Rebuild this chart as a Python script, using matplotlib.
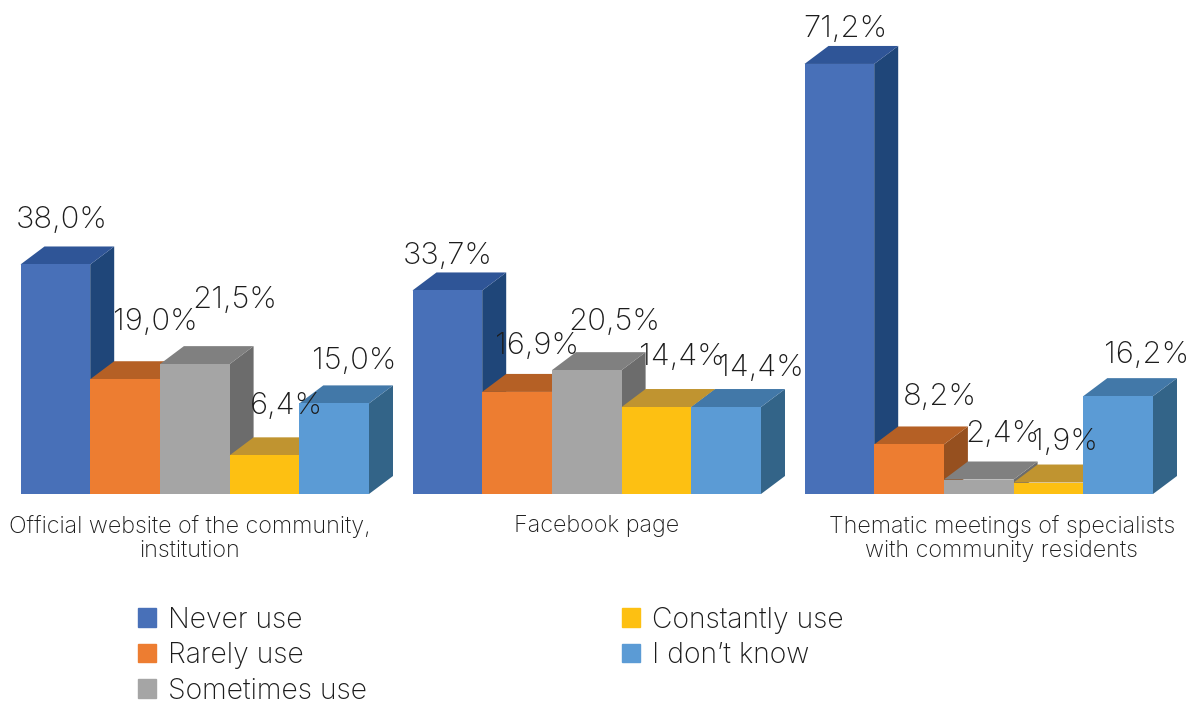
import numpy as np
import matplotlib.pyplot as plt
from matplotlib.patches import Polygon, Patch

plt.rcParams['font.family'] = ['Inter', 'DejaVu Sans']

categories = ['Official website of the community,\ninstitution', 'Facebook page',
              'Thematic meetings of specialists\nwith community residents']
series = ['Never use', 'Rarely use', 'Sometimes use', 'Constantly use', "I don\u2019t know"]
never_use = [38.0, 33.7, 71.2]
rarely_use = [19.0, 16.9, 8.2]
sometimes_use = [21.5, 20.5, 2.4]
constantly_use = [6.4, 14.4, 1.9]
dont_know = [15.0, 14.4, 16.2]
values = [never_use, rarely_use, sometimes_use, constantly_use, dont_know]

front_colors = ['#4870B8', '#ED7D31', '#A5A5A5', '#FDC012', '#5B9BD5']
top_colors = ['#2F5597', '#B56025', '#808080', '#C09430', '#4278A8']
side_colors = ['#1F4679', '#96501F', '#6C6C6C', '#A07C20', '#336488']

# label offsets from the bar's top centre, in pixels (the original has them placed by hand)
label_dx = [[6, 30, 40, 22, 20], [0, 20, 27, 25, 35], [6, 31, 24, 16, 28]]
label_dy = [[44, 57, 64, 49, 42], [34, 46, 48, 50, 39], [35, 47, 46, 41, 41]]

W, H = 1188, 701
base_px = 494
px_per_unit = 6.04
group_px = 392
left_px = 20.5
bar_w = 69.7 / group_px
depth_x = 24 / group_px
depth_y = 18 / px_per_unit

fig = plt.figure(figsize=(W / 100, H / 100), dpi=100)
ax = fig.add_axes([0, (H - base_px) / H, 1, base_px / H])
ax.set_xlim(-left_px / group_px, (W - left_px) / group_px)
ax.set_ylim(0, base_px / px_per_unit)

for g in range(len(categories)):
    for s in range(len(series)):
        x0 = g + s * bar_w
        x1 = x0 + bar_w
        v = values[s][g]
        z = 2 + g * 10 + s
        ax.add_patch(Polygon([(x1, 0), (x1 + depth_x, depth_y), (x1 + depth_x, v + depth_y), (x1, v)],
                             facecolor=side_colors[s], edgecolor='none', zorder=z))
        ax.add_patch(Polygon([(x0, v), (x0 + depth_x, v + depth_y), (x1 + depth_x, v + depth_y), (x1, v)],
                             facecolor=top_colors[s], edgecolor='none', zorder=z))
        ax.bar(x0, v, bar_w, align='edge', color=front_colors[s], edgecolor='none', zorder=z)
        ax.annotate(f'{v:.1f}%'.replace('.', ','), (x0 + bar_w / 2, v),
                    xytext=(label_dx[g][s], label_dy[g][s]), textcoords='offset pixels',
                    ha='center', va='center', fontsize=22.3, fontweight='light',
                    color='#1c1c1c', zorder=100)

tick_shift = [-5 / group_px, 10 / group_px, 23 / group_px]
ax.set_xticks([g + 2.5 * bar_w + tick_shift[g] for g in range(len(categories))])
ax.set_xticklabels(categories, fontsize=16.8, fontweight='light', color='#1c1c1c', linespacing=1.14)
ax.tick_params(axis='x', length=0, pad=15)
ax.set_yticks([])
for spine in ax.spines.values():
    spine.set_visible(False)
ax.patch.set_alpha(0)

handles = [Patch(color=c) for c in front_colors]
fig.legend(handles, series, ncol=2, loc='upper left', bbox_to_anchor=(112 / W, 1 - 581 / H),
           frameon=False, handlelength=0.64, handleheight=0.64,
           handletextpad=0.42, labelspacing=0.3, columnspacing=9.0,
           labelcolor='#1c1c1c', prop={'size': 20.4, 'weight': 'light'})

fig.savefig('out.png', dpi=100)
